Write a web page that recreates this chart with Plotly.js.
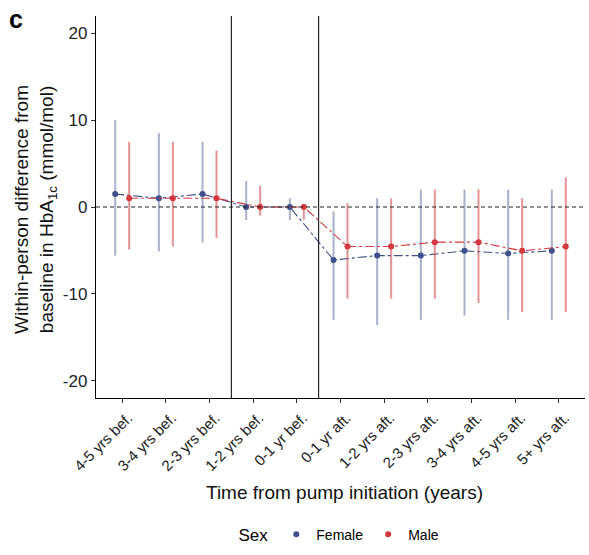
<!DOCTYPE html>
<html><head><meta charset="utf-8">
<script src="https://cdn.plot.ly/plotly-3.0.1.min.js"></script>
<style>body{margin:0;background:#fff}#chart{width:589px;height:555px}</style>
</head><body><div id="chart"></div>
<script>
const categories = ["4-5 yrs bef.","3-4 yrs bef.","2-3 yrs bef.","1-2 yrs bef.","0-1 yr bef.","0-1 yr aft.","1-2 yrs aft.","2-3 yrs aft.","3-4 yrs aft.","4-5 yrs aft.","5+ yrs aft."];
const femaleEst  = [1.5, 1.0, 1.5, 0.0, 0.0, -6.1, -5.6, -5.6, -5.05, -5.35, -5.05];
const femaleHigh = [10.0, 8.5, 7.5, 3.0, 1.0, -0.5, 1.0, 2.0, 2.0, 2.0, 2.0];
const femaleLow  = [-5.6, -5.1, -4.1, -1.5, -1.5, -13.0, -13.6, -13.0, -12.5, -13.0, -13.0];
const maleEst    = [1.0, 1.0, 1.0, 0.0, 0.0, -4.55, -4.55, -4.05, -4.05, -5.05, -4.55];
const maleHigh   = [7.5, 7.5, 6.5, 2.45, 0.35, 0.45, 1.0, 2.0, 2.05, 1.0, 3.4];
const maleLow    = [-4.9, -4.55, -3.55, -1.0, -1.45, -10.55, -10.55, -10.55, -11.05, -12.1, -12.1];
const yTicks = [-20, -10, 0, 10, 20];

const dodge = 0.16;
const idx = categories.map((c,i)=>i);
const fCol = '#3f4f8c', mCol = '#d2383d';
const fErr = 'rgba(63,79,140,0.45)', mErr = 'rgba(210,56,61,0.55)';
const font = "Liberation Sans, Arial, Helvetica, sans-serif";

function series(name, est, hi, lo, off, col, errCol){
  const x = idx.map(i=>i+off);
  return [
    {x:x, y:est, type:'scatter', mode:'lines', showlegend:false, hoverinfo:'skip',
     line:{color:col, width:1.1, dash:'dashdot'}},
    {x:x, y:est, type:'scatter', mode:'markers', name:name,
     marker:{color:col, size:6},
     error_y:{type:'data', symmetric:false, array:hi.map((h,i)=>h-est[i]),
              arrayminus:lo.map((l,i)=>est[i]-l), color:errCol, thickness:2, width:0}}
  ];
}

const data = [
  ...series('Female', femaleEst, femaleHigh, femaleLow, -dodge, fCol, fErr),
  ...series('Male', maleEst, maleHigh, maleLow, dodge, mCol, mErr)
];

const layout = {
  width:589, height:555,
  margin:{l:96, r:4, t:16, b:155},
  paper_bgcolor:'#fff', plot_bgcolor:'#fff',
  font:{family:font, color:'#000', size:14},
  showlegend:true,
  legend:{orientation:'h', x:0.5, xanchor:'center', y:-0.359, yanchor:'middle', itemwidth:30,
          title:{text:'Sex', font:{size:17}}, font:{size:14}},
  xaxis:{range:[-0.6, 10.6], tickvals:idx, ticktext:categories, tickangle:-45, automargin:false,
         ticklabelshift:6,
         showgrid:false, zeroline:false, showline:true, linecolor:'#000', linewidth:1.2,
         ticks:'outside', ticklen:4, tickcolor:'#333', tickfont:{size:15, color:'#222'}},
  yaxis:{range:[-22, 22], tickvals:yTicks, ticktext:yTicks.map(String), automargin:false,
         showgrid:false, zeroline:false, showline:true, linecolor:'#000', linewidth:1.2,
         ticks:'outside', ticklen:4, tickcolor:'#333', tickfont:{size:17, color:'#222'}},
  shapes:[
    {type:'line', xref:'paper', x0:0, x1:1, yref:'y', y0:0, y1:0, line:{color:'#222', width:1.2, dash:'4px,3px'}},
    {type:'line', xref:'x', x0:2.5, x1:2.5, yref:'paper', y0:0, y1:1, line:{color:'#000', width:1}},
    {type:'line', xref:'x', x0:4.5, x1:4.5, yref:'paper', y0:0, y1:1, line:{color:'#000', width:1}}
  ],
  annotations:[
    {text:'<b>c</b>', xref:'paper', yref:'paper', x:-0.182, y:1.035, xanchor:'left', yanchor:'top',
     showarrow:false, font:{size:25, family:font}},
    {text:'Time from pump initiation (years)', xref:'paper', yref:'paper', x:0.509, y:-0.247,
     xanchor:'center', yanchor:'middle', showarrow:false, font:{size:19, family:font, color:'#111'}},
    {text:'Within-person difference from<br>baseline in HbA<sub>1c</sub> (mmol/mol)', xref:'paper', yref:'paper',
     x:-0.1227, y:0.495, xanchor:'center', yanchor:'middle', textangle:-90, showarrow:false,
     font:{size:19, family:font, color:'#111'}}
  ]
};
Plotly.newPlot('chart', data, layout, {displayModeBar:false, staticPlot:true});
</script></body></html>
